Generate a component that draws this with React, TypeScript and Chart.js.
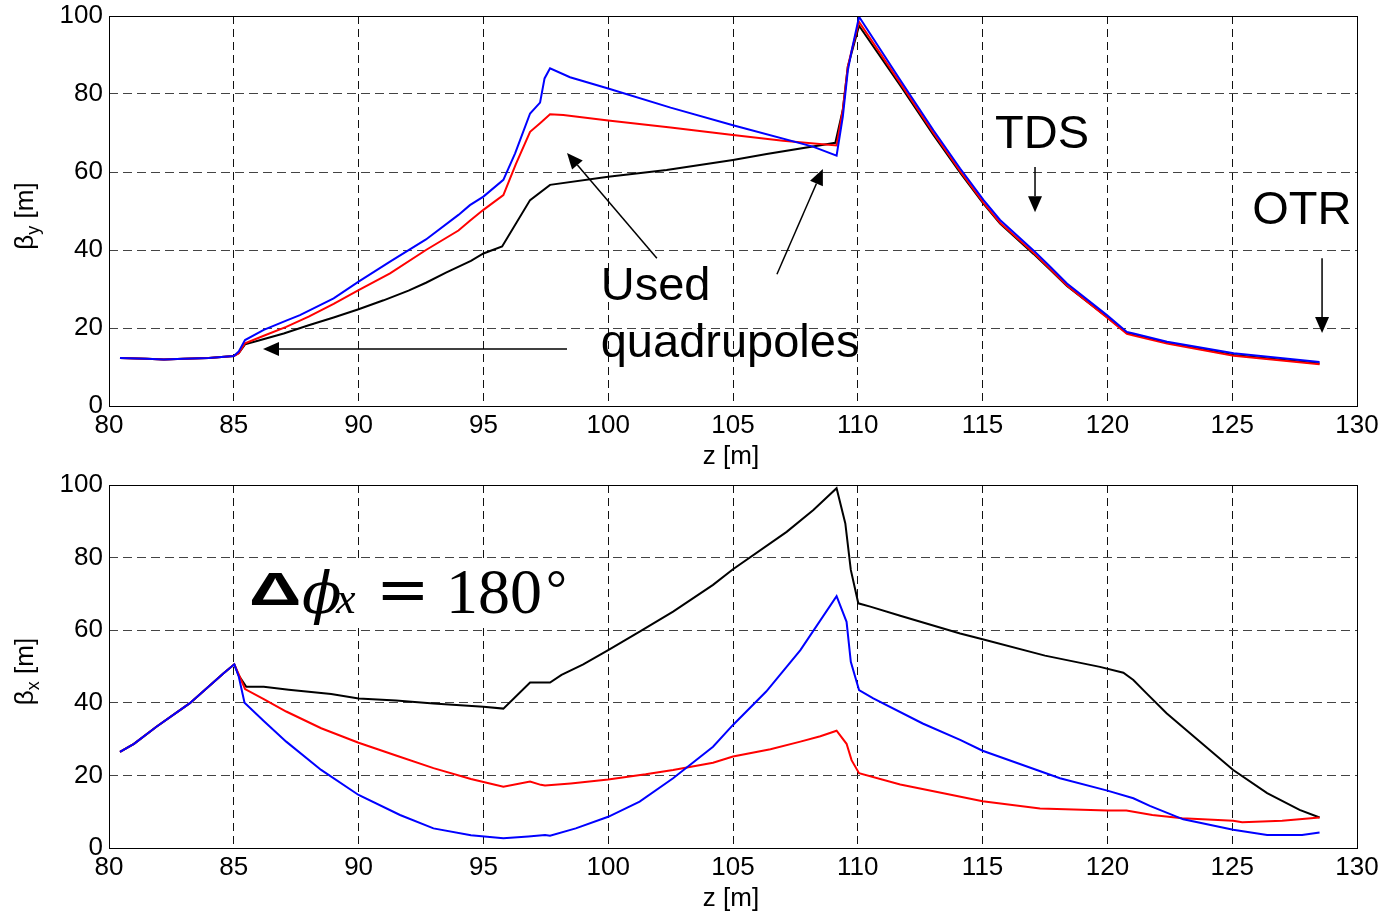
import React, { useEffect, useRef } from "react";
import { Chart, registerables } from "chart.js";

Chart.register(...registerables);

// ---------- axes ----------
const xTicks = [80, 85, 90, 95, 100, 105, 110, 115, 120, 125, 130];
const yTicks = [0, 20, 40, 60, 80, 100];

// ---------- top panel: beta_y ----------
const zBlueY = [80.44, 81.5, 82.2, 83.0, 84.0, 85.0, 85.2, 85.45, 86.2, 87.1, 87.65, 89.0, 90.0, 91.26, 92.7, 94.0, 94.46, 95.0, 95.8, 96.27, 96.87, 97.27, 97.45, 97.67, 98.47, 100.0, 102.5, 105.0, 108.2, 109.15, 109.4, 109.6, 109.75, 110.05, 111.7, 113.03, 114.1, 115.04, 115.7, 117.04, 117.71, 118.38, 119.98, 120.78, 121.05, 122.39, 125.06, 128.5];
const betaBlueY = [12.3, 12.1, 11.9, 12.1, 12.3, 12.8, 14.0, 16.9, 19.5, 21.9, 23.3, 27.6, 31.9, 37.0, 42.7, 49.0, 51.5, 53.7, 58.0, 64.8, 75.0, 77.8, 84.0, 86.6, 84.3, 81.4, 76.5, 72.0, 66.5, 64.2, 74.2, 86.0, 91.0, 99.8, 83.6, 70.7, 60.9, 52.8, 47.7, 39.9, 35.7, 31.4, 23.3, 19.0, 18.6, 16.5, 13.5, 11.3];

const zRedY = [80.44, 81.5, 82.2, 83.0, 84.0, 85.0, 85.2, 85.45, 86.2, 87.1, 88.0, 89.0, 90.0, 91.26, 92.7, 94.0, 94.46, 95.0, 95.8, 96.3, 96.87, 97.27, 97.67, 98.2, 100.0, 102.5, 105.0, 107.0, 109.15, 109.4, 109.6, 109.75, 110.05, 111.7, 113.03, 114.1, 115.04, 115.7, 117.04, 117.71, 118.38, 119.98, 120.78, 121.05, 122.39, 125.06, 128.5];
const betaRedY = [12.3, 12.1, 11.9, 12.1, 12.3, 12.8, 13.5, 16.1, 18.0, 20.3, 22.9, 26.2, 29.7, 34.0, 40.0, 45.0, 47.5, 50.3, 54.1, 62.0, 70.3, 72.5, 74.8, 74.6, 73.2, 71.4, 69.5, 68.0, 66.8, 76.0, 87.0, 91.0, 98.5, 82.8, 70.0, 60.2, 52.1, 47.0, 39.3, 35.1, 30.9, 22.7, 18.5, 18.1, 16.0, 12.9, 10.7];

const zBlackY = [80.44, 81.5, 82.2, 83.0, 84.0, 85.0, 85.2, 85.45, 86.0, 87.0, 88.0, 89.0, 90.0, 91.0, 92.0, 92.7, 93.5, 94.5, 95.0, 95.75, 96.87, 97.67, 100.0, 102.34, 105.0, 106.35, 109.1, 109.4, 109.6, 109.75, 110.05, 111.7, 113.03, 114.1, 115.04, 115.7, 117.04, 117.71, 118.38, 119.98, 120.78, 121.05, 122.39, 125.06, 128.5];
const betaBlackY = [12.3, 12.1, 11.9, 12.1, 12.3, 12.8, 13.6, 15.8, 16.8, 18.6, 20.7, 22.7, 24.8, 27.1, 29.6, 31.6, 34.2, 37.2, 39.1, 40.9, 52.8, 56.7, 58.8, 60.5, 63.1, 64.6, 67.5, 76.0, 87.0, 90.5, 97.5, 82.2, 69.5, 59.8, 51.8, 46.8, 39.0, 34.9, 30.8, 22.8, 18.7, 18.3, 16.2, 13.1, 10.9];

// ---------- bottom panel: beta_x ----------
const zBlueX = [80.44, 81.0, 81.9, 83.24, 84.58, 85.02, 85.2, 85.43, 86.2, 87.1, 88.5, 90.0, 91.66, 93.0, 94.5, 95.8, 96.8, 97.47, 97.67, 98.7, 100.0, 101.26, 102.6, 104.2, 105.0, 106.33, 107.7, 109.15, 109.55, 109.72, 110.05, 110.62, 112.6, 114.1, 115.0, 118.1, 120.0, 121.04, 121.7, 123.04, 125.04, 126.4, 127.8, 128.5];
const betaBlueX = [26.5, 28.7, 33.4, 39.9, 48.1, 50.6, 47.2, 40.0, 35.0, 29.3, 21.5, 14.6, 9.1, 5.4, 3.5, 2.7, 3.2, 3.6, 3.4, 5.4, 8.6, 12.8, 19.2, 27.9, 33.9, 43.1, 54.5, 69.4, 62.3, 51.3, 43.5, 41.2, 34.3, 29.8, 26.8, 19.2, 15.8, 13.7, 11.6, 7.9, 5.0, 3.6, 3.6, 4.3];

const zRedX = [80.44, 81.0, 81.9, 83.24, 84.58, 85.02, 85.2, 85.45, 86.2, 87.1, 88.5, 90.0, 91.5, 93.0, 94.5, 95.8, 96.87, 97.3, 97.47, 98.5, 100.0, 101.5, 102.6, 104.2, 105.0, 106.5, 107.7, 108.5, 109.15, 109.55, 109.75, 110.05, 111.7, 113.43, 115.0, 117.3, 120.0, 120.76, 121.8, 123.0, 125.04, 125.4, 127.0, 128.5];
const betaRedX = [26.5, 28.7, 33.4, 39.9, 48.1, 50.6, 47.8, 43.8, 41.0, 37.6, 33.0, 29.0, 25.5, 22.0, 19.0, 16.9, 18.3, 17.4, 17.2, 17.8, 18.9, 20.3, 21.5, 23.5, 25.2, 27.2, 29.3, 30.8, 32.3, 28.7, 24.2, 20.6, 17.5, 15.1, 12.9, 10.9, 10.3, 10.3, 9.1, 8.2, 7.5, 7.1, 7.5, 8.4];

const zBlackX = [80.44, 81.0, 81.9, 83.24, 84.58, 85.02, 85.2, 85.5, 86.2, 87.2, 88.9, 90.0, 91.5, 93.0, 95.0, 95.8, 96.87, 97.67, 98.13, 99.0, 100.0, 101.26, 102.6, 104.2, 105.0, 107.15, 108.22, 109.15, 109.5, 109.72, 110.02, 110.5, 111.7, 114.1, 115.0, 117.5, 119.7, 120.64, 121.04, 121.57, 122.37, 123.71, 125.04, 126.4, 127.7, 128.5];
const betaBlackX = [26.5, 28.7, 33.4, 39.9, 48.1, 50.6, 47.5, 44.4, 44.4, 43.6, 42.4, 41.2, 40.6, 39.8, 38.9, 38.4, 45.6, 45.6, 47.7, 50.6, 54.5, 59.6, 65.1, 72.5, 76.8, 87.1, 93.1, 99.1, 89.4, 76.6, 67.4, 66.5, 64.0, 59.1, 57.5, 53.0, 49.9, 48.3, 46.3, 42.6, 37.1, 29.3, 21.5, 15.1, 10.5, 8.4];

// ---------- annotations (data coordinates) ----------
const topTexts = [
  { text: "Used", z: 99.7, b: 27.2 },
  { text: "quadrupoles", z: 99.7, b: 12.6 },
  { text: "TDS", z: 115.5, b: 66.2 },
  { text: "OTR", z: 125.8, b: 46.7 },
];
const topArrows = [
  [98.35, 14.6, 86.17, 14.6],
  [101.95, 37.9, 98.35, 64.9],
  [106.76, 33.8, 108.6, 60.8],
  [117.1, 61.3, 117.1, 49.7],
  [128.6, 37.9, 128.6, 18.7],
];
const phaseBox = [85.13, 79.3, 98.8, 61.2];
const phaseAnchor = [85.65, 67.2];

const FONT = '"Liberation Sans", Arial, Helvetica, sans-serif';

function pts(z: number[], b: number[]) {
  return z.map((v, i) => ({ x: v, y: b[i] }));
}

function drawArrow(ctx: CanvasRenderingContext2D, x1: number, y1: number, x2: number, y2: number) {
  const ang = Math.atan2(y2 - y1, x2 - x1);
  const L = 16, W = 7;
  const bx = x2 - L * Math.cos(ang), by = y2 - L * Math.sin(ang);
  ctx.beginPath();
  ctx.moveTo(x1, y1);
  ctx.lineTo(bx, by);
  ctx.stroke();
  ctx.beginPath();
  ctx.moveTo(x2, y2);
  ctx.lineTo(bx + W * Math.sin(ang), by - W * Math.cos(ang));
  ctx.lineTo(bx - W * Math.sin(ang), by + W * Math.cos(ang));
  ctx.closePath();
  ctx.fill();
}

type PanelProps = {
  height: number;
  padTop: number;
  xAxisH: number;
  sub: string;
  series: { z: number[]; b: number[]; color: string }[];
  extra: (chart: any, ctx: CanvasRenderingContext2D) => void;
};

function Panel({ height, padTop, xAxisH, sub, series, extra }: PanelProps) {
  const ref = useRef<HTMLCanvasElement | null>(null);
  useEffect(() => {
    if (!ref.current) return;
    const overlay = {
      id: "overlay",
      afterDraw(chart: any) {
        const ctx: CanvasRenderingContext2D = chart.ctx;
        const a = chart.chartArea;
        ctx.save();
        extra(chart, ctx);
        // frame
        ctx.setLineDash([]);
        ctx.strokeStyle = "#000";
        ctx.lineWidth = 1;
        ctx.strokeRect(Math.round(a.left) + 0.5, Math.round(a.top) + 0.5, Math.round(a.right - a.left), Math.round(a.bottom - a.top));
        // x title
        ctx.fillStyle = "#000";
        ctx.font = `26px ${FONT}`;
        ctx.textAlign = "center";
        ctx.textBaseline = "middle";
        ctx.fillText("z [m]", (a.left + a.right) / 2 - 2, a.bottom + 51);
        // y title (rotated, with subscript)
        const cy = (a.top + a.bottom) / 2 + 5;
        ctx.translate(24, cy);
        ctx.rotate(-Math.PI / 2);
        ctx.textAlign = "left";
        ctx.textBaseline = "alphabetic";
        const big = `26px ${FONT}`, small = `18px ${FONT}`;
        ctx.font = big;
        const w1 = ctx.measureText("\u03b2").width;
        const w3 = ctx.measureText(" [m]").width;
        ctx.font = small;
        const w2 = ctx.measureText(sub).width;
        let xx = -(w1 + w2 + w3) / 2;
        ctx.font = big;
        ctx.fillText("\u03b2", xx, 9);
        xx += w1;
        ctx.font = small;
        ctx.fillText(sub, xx, 15);
        xx += w2;
        ctx.font = big;
        ctx.fillText(" [m]", xx, 9);
        ctx.restore();
      },
    };
    const chart = new Chart(ref.current, {
      type: "line",
      data: {
        datasets: series.map((s) => ({
          data: pts(s.z, s.b),
          borderColor: s.color,
          backgroundColor: s.color,
          borderWidth: 2,
          pointRadius: 0,
          fill: false,
          tension: 0,
        })),
      },
      options: {
        animation: false,
        responsive: false,
        events: [],
        layout: { padding: { left: 0, right: 29, top: padTop, bottom: 0 } },
        plugins: { legend: { display: false }, tooltip: { enabled: false } },
        scales: {
          x: {
            type: "linear",
            min: 80,
            max: 130,
            afterFit: (s: any) => {
              s.height = xAxisH;
              s.paddingLeft = 0;
              s.paddingRight = 0;
            },
            afterBuildTicks: (s: any) => { s.ticks = xTicks.map((v) => ({ value: v })); },
            ticks: { font: { family: FONT, size: 26 }, color: "#000", padding: 4, maxRotation: 0, autoSkip: false },
            grid: { color: "#111", lineWidth: 1, drawTicks: false },
            border: { display: false, dash: [8, 5] },
          },
          y: {
            type: "linear",
            min: 0,
            max: 100,
            afterFit: (s: any) => {
              s.width = 109;
              s.paddingTop = 0;
              s.paddingBottom = 0;
            },
            afterBuildTicks: (s: any) => { s.ticks = yTicks.map((v) => ({ value: v })); },
            ticks: { font: { family: FONT, size: 26 }, color: "#000", padding: 6, autoSkip: false },
            grid: { color: "#444", lineWidth: 1, drawTicks: false },
            border: { display: false, dash: [9, 5] },
          },
        },
      },
      plugins: [overlay],
    } as any);
    return () => chart.destroy();
  }, []);
  return <canvas ref={ref} width={1386} height={height} style={{ display: "block" }} />;
}

function drawTop(chart: any, ctx: CanvasRenderingContext2D) {
  const X = chart.scales.x, Y = chart.scales.y;
  ctx.fillStyle = "#000";
  ctx.strokeStyle = "#000";
  ctx.lineWidth = 1.5;
  ctx.setLineDash([]);
  for (const [z1, b1, z2, b2] of topArrows) {
    drawArrow(ctx, X.getPixelForValue(z1), Y.getPixelForValue(b1), X.getPixelForValue(z2), Y.getPixelForValue(b2));
  }
  ctx.font = `47px ${FONT}`;
  ctx.textAlign = "left";
  ctx.textBaseline = "alphabetic";
  for (const t of topTexts) {
    ctx.fillText(t.text, X.getPixelForValue(t.z), Y.getPixelForValue(t.b));
  }
}

function drawBottom(chart: any, ctx: CanvasRenderingContext2D) {
  const X = chart.scales.x, Y = chart.scales.y;
  const bx1 = X.getPixelForValue(phaseBox[0]), by1 = Y.getPixelForValue(phaseBox[1]);
  const bx2 = X.getPixelForValue(phaseBox[2]), by2 = Y.getPixelForValue(phaseBox[3]);
  ctx.fillStyle = "#fff";
  ctx.fillRect(bx1, by1, bx2 - bx1, by2 - by1);
  const ax = X.getPixelForValue(phaseAnchor[0]);
  const ay = Y.getPixelForValue(phaseAnchor[1]);
  ctx.fillStyle = "#000";
  ctx.textAlign = "left";
  ctx.textBaseline = "alphabetic";
  // Delta
  ctx.save();
  ctx.translate(ax - 1, ay + 1);
  ctx.scale(1.55, 1);
  ctx.font = `bold 47px "Liberation Sans", sans-serif`;
  ctx.fillText("\u0394", 0, 0);
  ctx.restore();
  // phi
  ctx.font = `italic 58px "DejaVu Serif", serif`;
  ctx.fillText("\u03d5", ax + 52, ay + 9);
  // subscript x
  ctx.font = `italic 44px "Liberation Serif", serif`;
  ctx.fillText("x", ax + 86, ay + 9);
  // equals
  ctx.font = `64px "DejaVu Serif", serif`;
  ctx.fillText("=", ax + 126, ay + 7);
  // 180
  ctx.font = `64px "Liberation Serif", serif`;
  ctx.fillText("180", ax + 196, ay + 9);
  // degree
  ctx.font = `52px "Liberation Serif", serif`;
  ctx.fillText("\u00b0", ax + 296, ay + 2);
}

const topSeries = [
  { z: zBlueY, b: betaBlueY, color: "#0000ff" },
  { z: zRedY, b: betaRedY, color: "#ff0000" },
  { z: zBlackY, b: betaBlackY, color: "#000000" },
];
const bottomSeries = [
  { z: zBlueX, b: betaBlueX, color: "#0000ff" },
  { z: zRedX, b: betaRedX, color: "#ff0000" },
  { z: zBlackX, b: betaBlackX, color: "#000000" },
];

export default function App() {
  return (
    <div style={{ position: "absolute", left: 0, top: 0, width: 1386, height: 914, background: "#fff" }}>
      <Panel height={470} padTop={16} xAxisH={64} sub="y" series={topSeries} extra={drawTop} />
      <Panel height={444} padTop={15} xAxisH={66} sub="x" series={bottomSeries} extra={drawBottom} />
    </div>
  );
}
